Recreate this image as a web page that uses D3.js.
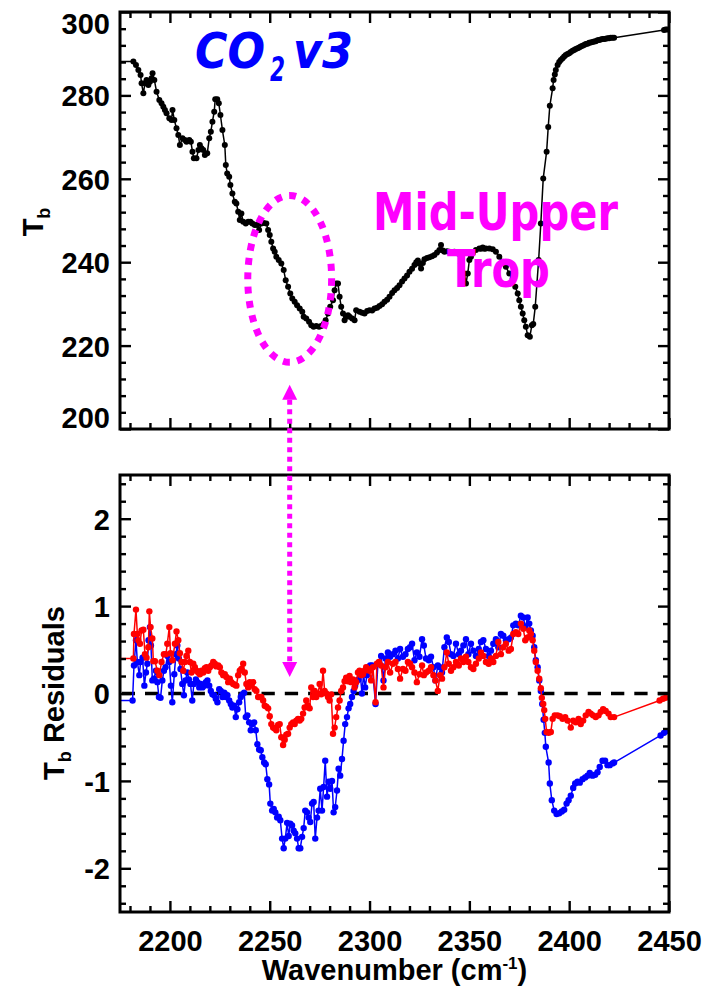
<!DOCTYPE html>
<html>
<head>
<meta charset="utf-8">
<script src="https://cdn.jsdelivr.net/npm/d3@7"></script>
<style>
  body { margin: 0; background: #fff; }
  svg text { font-family: "Liberation Sans", Arial, Helvetica, sans-serif; font-weight: bold; }
  .fancy { font-family: "Comic Sans MS", "DejaVu Sans", sans-serif !important; font-weight: bold; }
</style>
</head>
<body>
<svg id="chart" width="704" height="988"></svg>
<script>
// ---- Brightness temperature spectrum (top panel) ----
const topWn = [2170,2181.7,2183.0,2184.2,2185.3,2185.8,2186.7,2187.5,2188.3,2189.2,2190.0,2190.8,2191.3,2192.2,2193.3,2194.7,
  2195.8,2196.7,2197.5,2198.3,2199.7,2200.8,2201.3,2202.2,2203.3,2204.2,2205.0,2206.3,2207.5,2208.3,2209.7,2210.5,
  2211.3,2212.0,2213.3,2214.3,2215.0,2215.8,2216.7,2217.5,2218.7,2219.7,2220.5,2221.3,2222.2,2222.7,2223.7,2224.5,
  2225.3,2226.3,2227.5,2228.0,2228.7,2229.7,2230.3,2231.3,2232.5,2233.3,2234.2,2235.0,2235.8,2236.7,2238.0,2239.2,
  2240.3,2241.3,2242.5,2243.7,2244.7,2245.8,2247.0,2248.3,2249.2,2250.0,2250.8,2251.7,2252.5,2253.3,2254.5,2255.8,
  2257.0,2258.0,2259.2,2260.3,2261.3,2262.5,2263.7,2265.0,2266.3,2267.0,2268.3,2269.7,2270.8,2272.0,2273.3,2274.7,
  2275.8,2277.0,2278.0,2279.2,2280.3,2281.7,2282.5,2283.3,2284.2,2285.0,2285.8,2286.7,2287.5,2288.3,2289.2,2290.0,
  2291.3,2292.5,2293.3,2295.0,2296.3,2297.5,2298.8,2300.0,2301.3,2302.5,2303.8,2305.0,2306.3,2307.5,2308.8,2310.0,
  2311.3,2312.5,2313.8,2315.0,2316.3,2317.5,2318.8,2320.0,2321.3,2322.5,2323.4,2324.2,2325.0,2325.8,2326.7,2327.5,
  2328.8,2330.0,2331.3,2332.5,2333.8,2335.0,2335.8,2336.7,2337.5,2338.8,2340.0,2341.3,2342.5,2344.2,2345.8,2347.5,
  2348.3,2349.2,2350.0,2350.8,2351.7,2353.3,2355.0,2355.8,2356.7,2357.5,2358.3,2360.0,2361.7,2363.3,2365.0,2366.7,
  2368.3,2370.0,2371.7,2373.0,2374.2,2375.0,2375.8,2376.7,2377.5,2378.3,2379.2,2380.3,2381.3,2382.0,2383.0,2384.7,
  2385.8,2387.0,2388.7,2389.5,2390.3,2391.7,2392.2,2392.8,2393.3,2394.2,2395.0,2395.8,2396.7,2397.5,2398.3,2399.2,
  2400.0,2400.8,2401.7,2402.5,2403.3,2404.2,2405.0,2405.8,2406.7,2407.5,2408.3,2409.2,2410.0,2410.8,2411.7,2412.5,
  2413.3,2414.2,2415.0,2415.8,2416.7,2417.5,2418.3,2419.2,2420.0,2420.8,2421.7,2422.5,2447.5,2448.3,2449.2];
const topTb = [288.1,288.1,287.3,286.1,284.9,282.9,280.5,282.9,283.7,282.5,283.3,284.1,285.3,283.7,280.9,278.9,
  278.1,277.3,276.5,275.7,274.5,274.1,276.5,274.1,272.1,270.5,268.1,269.7,269.3,268.9,269.3,268.9,
  266.5,264.9,264.9,266.9,268.1,267.3,266.9,265.7,266.1,269.7,271.3,273.7,276.1,279.1,279.1,278.1,
  275.3,271.7,268.1,263.3,261.3,260.5,258.5,256.5,254.5,254.1,252.1,250.1,251.7,249.7,249.3,249.7,
  249.7,249.3,248.9,248.9,247.7,249.3,249.4,249.3,247.7,246.5,244.9,243.3,242.5,241.3,240.5,239.7,
  238.1,235.7,234.1,232.5,231.3,230.5,229.7,228.9,228.1,226.9,226.5,225.7,224.9,224.5,224.7,224.5,
  224.7,225.2,226.1,227.7,229.3,230.9,233.3,234.9,234.9,231.7,229.3,227.7,226.1,226.9,227.3,226.9,
  226.5,226.1,228.5,228.1,227.9,227.7,228.3,228.5,228.4,228.9,229.1,229.5,229.9,230.5,231.0,231.7,
  232.6,233.3,233.8,234.5,235.4,236.1,236.8,237.7,238.4,239.3,240.0,240.4,239.6,238.5,239.8,240.7,
  241.0,241.2,241.4,241.7,242.3,242.9,244.1,242.8,242.5,242.6,242.5,242.4,242.5,242.1,239.7,237.3,
  234.9,237.3,240.5,241.3,242.1,242.9,243.3,243.2,243.5,243.2,243.3,243.3,243.1,242.5,241.3,240.1,
  238.9,237.3,236.1,234.1,232.5,230.9,229.3,227.7,226.1,224.5,222.5,222.1,224.9,225.2,229.3,240.5,
  249.3,260.1,266.5,272.4,277.5,281.7,283.7,285.0,286.1,287.3,288.0,288.5,288.9,289.3,289.7,289.9,
  290.1,290.4,290.7,290.9,291.1,291.3,291.5,291.7,291.9,292.1,292.3,292.4,292.6,292.7,292.8,292.9,
  293.0,293.2,293.3,293.4,293.5,293.5,293.6,293.7,293.7,293.8,293.8,293.8,295.7,295.8,295.8];

// ---- Residuals (bottom panel): red and blue retrievals ----
const redWn = [2170,2181.7,2182.0,2183.0,2183.7,2184.2,2185.0,2185.8,2186.7,2187.5,2188.3,2189.2,2189.7,2190.3,2191.2,2191.7,
  2192.5,2193.7,2194.7,2195.8,2197.0,2198.0,2198.7,2199.7,2200.3,2201.3,2202.5,2203.3,2204.2,2205.0,2205.8,2206.7,
  2207.5,2208.3,2209.2,2210.0,2210.8,2211.7,2212.5,2213.3,2214.2,2215.0,2215.8,2216.7,2217.5,2218.3,2219.2,2220.0,
  2220.8,2221.7,2222.5,2223.3,2224.2,2225.0,2225.8,2226.7,2227.5,2228.3,2229.2,2230.0,2230.8,2231.7,2232.5,2233.3,
  2234.2,2235.0,2235.8,2236.7,2237.5,2238.3,2239.2,2240.0,2240.8,2241.7,2242.5,2243.3,2244.2,2245.0,2245.8,2246.7,
  2247.5,2248.3,2249.2,2250.0,2250.8,2251.7,2252.5,2253.3,2254.2,2255.0,2255.8,2256.7,2257.5,2258.3,2259.2,2260.0,
  2260.8,2261.7,2262.5,2263.3,2264.2,2265.0,2265.8,2266.7,2267.5,2268.3,2269.2,2270.0,2270.8,2271.7,2272.5,2273.3,
  2274.2,2275.0,2275.8,2276.7,2277.5,2278.3,2279.2,2280.0,2280.8,2281.7,2282.5,2283.3,2284.2,2285.0,2285.8,2286.7,
  2287.5,2288.3,2289.2,2290.0,2290.8,2291.7,2292.5,2293.3,2294.2,2295.0,2295.8,2296.7,2297.5,2298.3,2299.2,2300.0,
  2300.8,2301.7,2303.0,2303.7,2304.7,2305.8,2307.0,2308.0,2309.2,2310.3,2311.7,2313.0,2314.2,2315.3,2316.7,2318.0,
  2319.2,2320.3,2321.3,2322.5,2323.7,2325.0,2326.3,2327.2,2328.3,2329.7,2330.8,2332.0,2333.0,2334.2,2335.3,2336.3,
  2337.5,2338.7,2339.7,2340.8,2342.0,2343.3,2344.7,2345.8,2347.0,2348.3,2349.5,2350.8,2352.0,2353.3,2354.7,2355.8,
  2357.0,2358.3,2359.7,2360.8,2362.0,2363.3,2364.5,2365.8,2367.0,2368.3,2369.7,2370.8,2372.0,2373.3,2374.5,2375.8,
  2377.0,2378.0,2379.2,2380.0,2380.8,2381.7,2382.5,2383.3,2384.2,2385.0,2385.8,2386.3,2387.0,2387.5,2388.0,2388.7,
  2389.7,2390.8,2391.7,2392.8,2394.2,2395.3,2396.7,2398.0,2399.2,2400.8,2402.0,2403.3,2404.7,2405.8,2407.0,2408.3,
  2409.7,2410.8,2412.0,2413.3,2414.7,2415.8,2417.0,2418.3,2419.7,2420.8,2422.5,2445.3,2447.0,2448.3];
const redRes = [0.40,0.40,0.68,0.96,0.68,0.61,0.57,0.72,0.73,0.45,0.41,0.53,0.94,0.76,0.63,0.37,
  0.37,0.26,0.21,0.36,0.45,0.45,0.57,0.76,0.46,0.38,0.57,0.71,0.61,0.46,0.36,0.26,
  0.36,0.43,0.49,0.36,0.24,0.34,0.30,0.26,0.24,0.22,0.26,0.24,0.29,0.30,0.26,0.30,
  0.32,0.36,0.34,0.31,0.32,0.30,0.24,0.21,0.22,0.19,0.13,0.17,0.13,0.11,0.10,0.09,
  0.21,0.26,0.28,0.34,0.24,0.11,0.07,0.13,0.09,0.13,0.05,0.03,-0.04,-0.04,-0.04,-0.08,
  -0.14,-0.15,-0.17,-0.26,-0.35,-0.39,-0.40,-0.42,-0.36,-0.35,-0.50,-0.59,-0.53,-0.47,-0.46,-0.39,
  -0.35,-0.33,-0.35,-0.31,-0.29,-0.31,-0.29,-0.23,-0.16,-0.08,-0.14,-0.17,0.07,-0.04,0.03,-0.04,
  0.00,0.11,-0.01,0.26,0.03,0.00,-0.04,-0.08,-0.01,-0.46,-0.39,-0.27,-0.16,-0.08,0.03,0.07,
  0.14,0.18,0.14,0.20,0.13,0.16,0.07,0.13,0.24,0.26,0.21,0.22,0.26,0.30,0.28,0.26,
  0.15,0.30,-0.10,0.34,0.36,0.32,0.07,0.30,0.36,0.24,0.34,0.36,0.28,0.17,0.28,0.26,
  0.36,0.34,0.30,0.24,0.13,0.22,0.32,0.21,0.24,0.26,0.30,0.21,0.15,0.03,0.21,0.17,
  0.30,0.47,0.34,0.26,0.30,0.36,0.32,0.40,0.36,0.42,0.36,0.30,0.28,0.34,0.40,0.47,
  0.43,0.36,0.34,0.40,0.36,0.43,0.59,0.45,0.53,0.57,0.49,0.51,0.68,0.70,0.68,0.80,
  0.74,0.61,0.64,0.72,0.68,0.61,0.49,0.36,0.26,0.17,0.06,-0.05,-0.12,-0.19,-0.29,-0.44,
  -0.45,-0.44,-0.29,-0.25,-0.25,-0.26,-0.29,-0.27,-0.31,-0.39,-0.31,-0.33,-0.29,-0.35,-0.31,-0.25,
  -0.21,-0.23,-0.25,-0.27,-0.25,-0.21,-0.18,-0.20,-0.23,-0.27,-0.27,-0.08,-0.06,-0.05];

const blueWn = [2170,2181.3,2182.0,2183.0,2183.7,2184.7,2185.3,2186.3,2187.2,2188.0,2188.7,2189.3,2190.0,2190.5,2191.2,2192.0,
  2193.0,2193.7,2194.5,2195.3,2196.2,2197.0,2197.8,2198.8,2199.7,2200.5,2201.2,2202.2,2203.0,2203.7,2204.5,2205.3,
  2206.2,2207.0,2207.8,2208.7,2209.5,2210.3,2211.2,2212.0,2213.0,2213.8,2214.7,2215.5,2216.3,2217.2,2218.0,2218.8,
  2219.7,2220.5,2221.3,2222.2,2223.0,2223.8,2224.7,2225.5,2226.3,2227.2,2228.0,2228.8,2229.7,2230.5,2231.3,2232.2,
  2233.0,2233.8,2234.7,2235.5,2236.3,2237.2,2238.0,2238.8,2239.7,2240.5,2241.3,2242.2,2243.0,2243.8,2244.7,2245.5,
  2246.3,2247.2,2248.0,2248.8,2249.7,2250.3,2251.2,2252.0,2252.8,2253.7,2254.5,2255.3,2256.2,2257.0,2257.8,2258.7,
  2259.5,2260.3,2261.2,2262.0,2262.8,2263.7,2264.5,2265.3,2266.2,2267.0,2267.8,2268.7,2269.5,2270.3,2271.2,2272.0,
  2272.8,2273.7,2274.5,2275.3,2276.2,2277.0,2277.8,2278.7,2279.5,2280.3,2281.2,2282.0,2282.8,2283.7,2284.5,2285.3,
  2286.2,2287.0,2287.8,2288.7,2289.5,2290.3,2291.2,2292.0,2292.8,2293.7,2294.5,2295.3,2296.2,2297.0,2297.8,2298.7,
  2299.5,2300.3,2301.3,2303.0,2304.2,2305.8,2307.0,2308.0,2309.2,2310.3,2311.7,2313.0,2314.2,2315.3,2316.7,2318.0,
  2319.2,2320.3,2321.3,2322.5,2323.7,2325.0,2326.3,2327.2,2328.3,2329.7,2330.8,2332.0,2333.0,2334.2,2335.3,2336.3,
  2337.5,2338.7,2339.7,2340.8,2342.0,2343.3,2344.7,2345.8,2347.0,2348.3,2349.5,2350.8,2352.0,2353.3,2354.7,2355.8,
  2357.0,2358.3,2359.7,2360.8,2362.0,2363.3,2364.5,2365.8,2367.0,2368.3,2369.7,2370.8,2372.0,2373.3,2374.5,2375.8,
  2377.0,2378.0,2379.2,2380.0,2380.8,2381.7,2382.5,2383.3,2384.2,2385.0,2385.8,2386.5,2387.2,2387.8,2388.3,2389.7,
  2390.3,2391.3,2392.5,2393.7,2395.0,2396.3,2397.5,2398.7,2399.7,2400.8,2402.0,2403.0,2404.2,2405.3,2406.7,2408.0,
  2409.2,2410.3,2411.7,2413.0,2414.2,2415.3,2416.7,2418.0,2419.2,2420.3,2421.7,2422.5,2445.8,2447.5,2449.2];
const blueRes = [-0.08,-0.08,0.32,0.61,0.36,0.21,0.36,0.41,0.09,0.24,0.34,0.61,0.76,0.55,0.15,0.17,
  0.26,0.13,-0.04,-0.05,0.15,0.26,0.30,0.43,0.36,0.09,-0.10,0.22,0.45,0.55,0.40,0.28,
  0.11,-0.02,0.15,0.24,0.16,0.11,-0.08,0.11,0.16,0.13,0.07,0.11,0.07,0.09,0.13,0.15,
  0.09,0.03,-0.01,-0.02,-0.06,-0.10,0.05,0.03,-0.04,0.01,-0.04,-0.02,-0.08,-0.12,-0.16,-0.14,
  -0.27,-0.18,-0.10,-0.04,-0.01,0.01,-0.27,-0.25,-0.33,-0.42,-0.35,-0.33,-0.42,-0.58,-0.64,-0.65,
  -0.73,-0.79,-0.81,-0.98,-1.04,-1.26,-1.34,-1.32,-1.36,-1.42,-1.41,-1.45,-1.66,-1.77,-1.66,-1.48,
  -1.63,-1.49,-1.51,-1.57,-1.60,-1.66,-1.77,-1.77,-1.64,-1.54,-1.34,-1.36,-1.42,-1.47,-1.26,-1.24,
  -1.66,-1.42,-1.34,-1.09,-1.34,-1.07,-0.77,-1.18,-1.01,-1.09,-1.00,-1.36,-1.30,-1.11,-0.86,-0.94,
  -0.75,-0.54,-0.35,-0.27,-0.17,-0.12,-0.04,0.03,0.09,0.15,0.16,0.24,0.00,0.22,0.07,0.21,
  0.30,0.32,0.32,-0.12,0.34,0.43,0.15,0.40,0.47,0.42,0.45,0.49,0.40,0.51,0.42,0.45,
  0.51,0.53,0.57,0.38,0.47,0.42,0.62,0.55,0.40,0.38,0.42,0.30,0.15,0.32,0.30,0.24,
  0.53,0.64,0.59,0.45,0.43,0.57,0.45,0.49,0.55,0.62,0.45,0.57,0.49,0.43,0.51,0.59,
  0.61,0.51,0.43,0.49,0.57,0.62,0.53,0.68,0.66,0.61,0.62,0.64,0.78,0.80,0.78,0.89,
  0.87,0.76,0.87,0.80,0.72,0.66,0.53,0.38,0.30,0.15,0.03,-0.12,-0.30,-0.45,-0.61,-0.79,
  -1.03,-1.22,-1.34,-1.38,-1.37,-1.35,-1.33,-1.26,-1.22,-1.17,-1.08,-1.03,-1.01,-1.02,-0.98,-0.96,
  -0.94,-0.91,-0.94,-0.93,-0.90,-0.84,-0.77,-0.77,-0.82,-0.82,-0.80,-0.79,-0.48,-0.45,-0.43];

// ---- Axis ticks ----
const xTicks = [2200, 2250, 2300, 2350, 2400, 2450];
const tbTicks = [200, 220, 240, 260, 280, 300];
const resTicks = [-2, -1, 0, 1, 2];

// ---- Annotation anchors (data coordinates) ----
const ellipseCenter = [2260, 236];      // wavenumber, Tb
const ellipseRadii = [21, 20];          // cm-1, K
const arrowWn = 2260;
const arrowTopTb = 210.6;               // arrow tip in the Tb panel
const arrowBottomRes = 0.19;            // arrow tip in the residual panel

// ---- Layout ----
const svg = d3.select("#chart");
const left = 120, right = 669;
const topPanel = { y0: 12, y1: 429 };
const botPanel = { y0: 475, y1: 912 };

const x = d3.scaleLinear().domain([2175, 2450]).range([left, right]);
const yTop = d3.scaleLinear().domain([200, 300]).range([topPanel.y1, topPanel.y0]);
const yBot = d3.scaleLinear().domain([-2.5, 2.5]).range([botPanel.y1, botPanel.y0]);

const xMinor = d3.range(2180, 2450, 10).filter(v => v % 50 !== 0);
const tbMinor = d3.range(204, 300, 4).filter(v => v % 20 !== 0);
const resMinor = d3.range(-24, 25, 2).map(v => v / 10).filter(v => Math.abs(v % 1) > 1e-6);

const defs = svg.append("defs");
defs.append("clipPath").attr("id", "clipTop").append("rect")
  .attr("x", left).attr("y", topPanel.y0).attr("width", right - left).attr("height", topPanel.y1 - topPanel.y0);
defs.append("clipPath").attr("id", "clipBot").append("rect")
  .attr("x", left).attr("y", botPanel.y0).attr("width", right - left).attr("height", botPanel.y1 - botPanel.y0);

const MAJ = 11, MIN = 6, FS = 29;
const plain = d => String(d);   // ASCII hyphen for negatives

function styleAxis(g) {
  g.select(".domain").remove();
  g.selectAll(".tick line").attr("stroke", "#000").attr("stroke-width", 2.4);
  g.selectAll(".tick text").attr("fill", "#000").style("font-size", FS + "px");
}

function frame(yScale, panel, majors, minors, showX) {
  // left & right
  const l = svg.append("g").attr("transform", `translate(${left},0)`)
    .call(d3.axisLeft(yScale).tickValues(majors).tickSize(-MAJ).tickPadding(10).tickFormat(plain));
  styleAxis(l);
  // keep the end labels inside the frame's vertical extent
  const [lo, hi] = yScale.domain();
  l.selectAll(".tick text").attr("dy", d => d === hi && !showX ? "0.75em" : d === lo && !showX ? "-0.05em" : "0.36em");
  styleAxis(svg.append("g").attr("transform", `translate(${left},0)`)
    .call(d3.axisLeft(yScale).tickValues(minors).tickSize(-MIN).tickFormat("")));
  styleAxis(svg.append("g").attr("transform", `translate(${right},0)`)
    .call(d3.axisRight(yScale).tickValues(majors).tickSize(-MAJ).tickFormat("")));
  styleAxis(svg.append("g").attr("transform", `translate(${right},0)`)
    .call(d3.axisRight(yScale).tickValues(minors).tickSize(-MIN).tickFormat("")));
  // top & bottom
  styleAxis(svg.append("g").attr("transform", `translate(0,${panel.y0})`)
    .call(d3.axisTop(x).tickValues(xTicks).tickSize(-MAJ).tickFormat("")));
  styleAxis(svg.append("g").attr("transform", `translate(0,${panel.y0})`)
    .call(d3.axisTop(x).tickValues(xMinor).tickSize(-MIN).tickFormat("")));
  const b = svg.append("g").attr("transform", `translate(0,${panel.y1})`)
    .call(d3.axisBottom(x).tickValues(xTicks).tickSize(-MAJ).tickPadding(18)
      .tickFormat(showX ? plain : ""));
  styleAxis(b);
  styleAxis(svg.append("g").attr("transform", `translate(0,${panel.y1})`)
    .call(d3.axisBottom(x).tickValues(xMinor).tickSize(-MIN).tickFormat("")));
  svg.append("rect").attr("x", left).attr("y", panel.y0)
    .attr("width", right - left).attr("height", panel.y1 - panel.y0)
    .attr("fill", "none").attr("stroke", "#000").attr("stroke-width", 3);
}

function series(clip, wn, vals, yScale, color, lw, r) {
  const pts = wn.map((w, i) => [w, vals[i]]);
  const g = svg.append("g").attr("clip-path", `url(#${clip})`);
  g.append("path").datum(pts)
    .attr("d", d3.line().x(d => x(d[0])).y(d => yScale(d[1])))
    .attr("fill", "none").attr("stroke", color).attr("stroke-width", lw).attr("stroke-linejoin", "round");
  g.selectAll("circle").data(pts).join("circle")
    .attr("cx", d => x(d[0])).attr("cy", d => yScale(d[1])).attr("r", r).attr("fill", color);
}

// ---- Top panel ----
series("clipTop", topWn, topTb, yTop, "#000", 1.5, 3);
frame(yTop, topPanel, tbTicks, tbMinor, false);

// ---- Bottom panel ----
svg.append("line")
  .attr("x1", x(2175)).attr("x2", x(2450)).attr("y1", yBot(0)).attr("y2", yBot(0))
  .attr("stroke", "#000").attr("stroke-width", 3.6)
  .attr("stroke-dasharray", "13.3 10").attr("stroke-dashoffset", -1.7);
series("clipBot", blueWn, blueRes, yBot, "#0000ff", 1.5, 3.2);
series("clipBot", redWn, redRes, yBot, "#ff0000", 1.5, 3.2);
frame(yBot, botPanel, resTicks, resMinor, true);

// ---- Axis titles ----
const yt1 = svg.append("text").attr("transform", `translate(43,222) rotate(-90)`)
  .attr("text-anchor", "middle").style("font-size", FS + "px");
yt1.append("tspan").text("T");
yt1.append("tspan").attr("dy", 7).style("font-size", "18px").text("b");

const yt2 = svg.append("text").attr("transform", `translate(64,693) rotate(-90)`)
  .attr("text-anchor", "middle").style("font-size", FS + "px");
yt2.append("tspan").text("T");
yt2.append("tspan").attr("dy", 7).style("font-size", "18px").text("b");
yt2.append("tspan").attr("dy", -7).text(" Residuals");

const xt = svg.append("text").attr("x", (left + right) / 2).attr("y", 980)
  .attr("text-anchor", "middle").style("font-size", FS + "px");
xt.append("tspan").text("Wavenumber (cm");
xt.append("tspan").attr("dy", -11).style("font-size", "17px").text("-1");
xt.append("tspan").attr("dy", 11).text(")");

// ---- Labels inside the Tb panel ----
const blue = "#0000ff", magenta = "#ff00ff";
svg.append("text").attr("class", "fancy").attr("x", 195).attr("y", 68)
  .attr("textLength", 70).attr("lengthAdjust", "spacingAndGlyphs")
  .style("font-size", "50px").style("font-style", "italic").attr("fill", blue).text("CO");
svg.append("text").attr("class", "fancy").attr("x", 270).attr("y", 81)
  .attr("textLength", 15).attr("lengthAdjust", "spacingAndGlyphs")
  .style("font-size", "33px").style("font-style", "italic").attr("fill", blue).text("2");
svg.append("text").attr("class", "fancy").attr("x", 293).attr("y", 68)
  .attr("textLength", 60).attr("lengthAdjust", "spacingAndGlyphs")
  .style("font-size", "50px").style("font-style", "italic").attr("fill", blue).text("v3");

svg.append("text").attr("class", "fancy").attr("x", 373).attr("y", 230)
  .attr("textLength", 245).attr("lengthAdjust", "spacingAndGlyphs")
  .style("font-size", "51px").attr("fill", magenta).text("Mid-Upper");
svg.append("text").attr("class", "fancy").attr("x", 447).attr("y", 287)
  .attr("textLength", 103).attr("lengthAdjust", "spacingAndGlyphs")
  .style("font-size", "51px").attr("fill", magenta).text("Trop");

// ---- Dotted ellipse around the mid/upper-troposphere band ----
svg.append("ellipse")
  .attr("cx", x(ellipseCenter[0])).attr("cy", yTop(ellipseCenter[1]))
  .attr("rx", x(ellipseCenter[0] + ellipseRadii[0]) - x(ellipseCenter[0]))
  .attr("ry", yTop(ellipseCenter[1] - ellipseRadii[1]) - yTop(ellipseCenter[1]))
  .attr("fill", "none").attr("stroke", magenta).attr("stroke-width", 7)
  .attr("stroke-dasharray", "7 7.4");

// ---- Double-headed dotted arrow linking the panels ----
const ax = x(arrowWn), aTop = yTop(arrowTopTb), aBot = yBot(arrowBottomRes);
const head = 15, halfW = 7.5;
svg.append("line").attr("x1", ax).attr("x2", ax).attr("y1", aTop + head).attr("y2", aBot - head)
  .attr("stroke", magenta).attr("stroke-width", 5).attr("stroke-dasharray", "5 4.5");
svg.append("path")
  .attr("d", `M${ax},${aTop} L${ax - halfW},${aTop + head} L${ax + halfW},${aTop + head} Z`)
  .attr("fill", magenta);
svg.append("path")
  .attr("d", `M${ax},${aBot} L${ax - halfW},${aBot - head} L${ax + halfW},${aBot - head} Z`)
  .attr("fill", magenta);
</script>
</body>
</html>
